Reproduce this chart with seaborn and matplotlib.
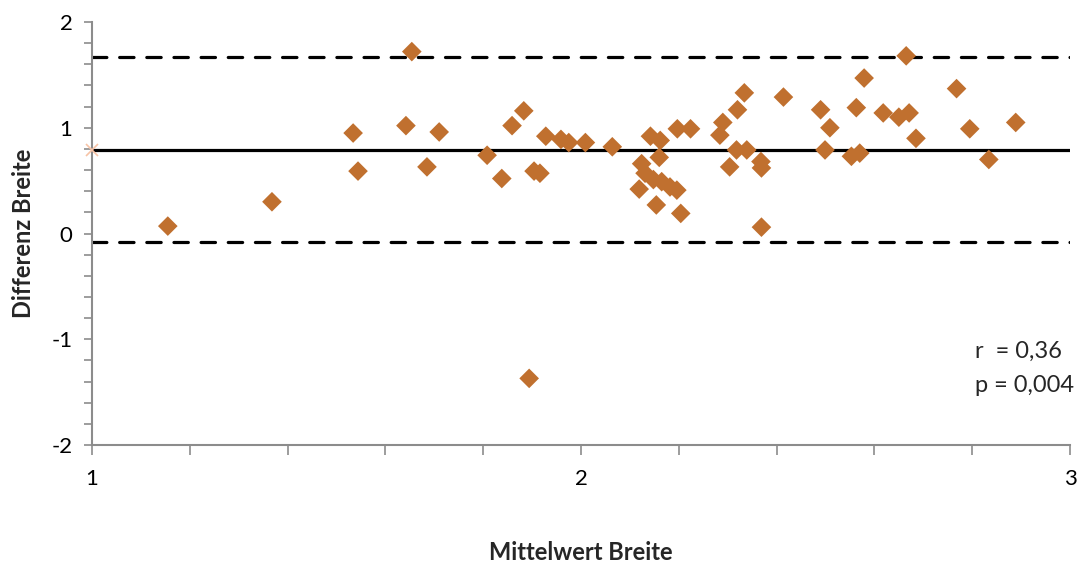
import numpy as np
import pandas as pd
import matplotlib
matplotlib.use("Agg")
import matplotlib.pyplot as plt
from matplotlib.ticker import MultipleLocator, FuncFormatter
import seaborn as sns

# Bland-Altman Daten (Breite)
mittelwert = [1.155, 1.368, 1.534, 1.544, 1.642, 1.654, 1.685, 1.710, 1.808, 1.838,
              1.859, 1.883, 1.894, 1.904, 1.916, 1.928, 1.959, 1.975, 2.009, 2.064,
              2.142, 2.162, 2.160, 2.124, 2.131, 2.148, 2.165, 2.182, 2.196, 2.119,
              2.154, 2.204, 2.197, 2.224, 2.284, 2.290, 2.320, 2.334, 2.318, 2.339,
              2.304, 2.368, 2.369, 2.369, 2.414, 2.490, 2.509, 2.499, 2.553, 2.570,
              2.563, 2.579, 2.618, 2.650, 2.671, 2.665, 2.685, 2.768, 2.795, 2.834,
              2.889]
differenz = [0.07, 0.30, 0.95, 0.59, 1.02, 1.72, 0.63, 0.96, 0.74, 0.52,
             1.02, 1.16, -1.37, 0.59, 0.57, 0.92, 0.89, 0.86, 0.86, 0.82,
             0.92, 0.88, 0.72, 0.66, 0.57, 0.51, 0.49, 0.44, 0.41, 0.42,
             0.27, 0.19, 0.99, 0.99, 0.93, 1.05, 1.17, 1.33, 0.79, 0.79,
             0.63, 0.68, 0.62, 0.06, 1.29, 1.17, 1.00, 0.79, 0.73, 0.76,
             1.19, 1.47, 1.14, 1.10, 1.14, 1.68, 0.90, 1.37, 0.99, 0.70,
             1.05]

mean_diff = 0.79
upper_loa = 1.67
lower_loa = -0.08
x_range = [1, 3]

df = pd.DataFrame({"Mittelwert Breite": mittelwert, "Differenz Breite": differenz})

sns.set_style("white")
plt.rcParams["font.family"] = ["Lato", "DejaVu Sans"]
plt.rcParams["axes.unicode_minus"] = False

fig = plt.figure(figsize=(10.85, 5.63), dpi=100)
ax = fig.add_axes([92 / 1085, 1 - 445 / 563, (1070 - 92) / 1085, (445 - 22) / 563])

dash = (0, (4.5, 4))
ax.plot(x_range, [upper_loa] * 2, color="black", lw=2.3, ls=dash,
        dash_capstyle="round", zorder=1)
ax.plot(x_range, [lower_loa] * 2, color="black", lw=2.3, ls=dash,
        dash_capstyle="round", zorder=1)
ax.plot(x_range, [mean_diff] * 2, color="black", lw=2.3, zorder=1)
ax.plot([x_range[0]], [mean_diff], marker="x", color="#F7C3A6", ms=9, mew=1.2,
        clip_on=False, zorder=3)

sns.scatterplot(data=df, x="Mittelwert Breite", y="Differenz Breite", ax=ax,
                marker="D", s=100, color="#C0702F", edgecolor="none", zorder=2)

ax.set_xlim(1, 3)
ax.set_ylim(-2, 2)
ax.xaxis.set_major_locator(MultipleLocator(1))
ax.xaxis.set_minor_locator(MultipleLocator(0.2))
ax.yaxis.set_major_locator(MultipleLocator(1))
ax.yaxis.set_minor_locator(MultipleLocator(0.2))
ax.yaxis.set_major_formatter(FuncFormatter(lambda v, p: f"{v:.0f}".replace("\u2212", "-")))

for side in ["top", "right"]:
    ax.spines[side].set_visible(False)
for side in ["left", "bottom"]:
    ax.spines[side].set_color("#8C8C8C")
    ax.spines[side].set_linewidth(1.5)

ax.tick_params(axis="both", which="both", direction="out", color="#8C8C8C",
               width=1.2, length=6, labelsize=16, labelcolor="black",
               bottom=True, left=True)
ax.tick_params(axis="x", which="both", length=7)
ax.tick_params(axis="x", which="major", pad=10)
ax.tick_params(axis="y", which="major", pad=8)

ax.set_xlabel("Mittelwert Breite", fontsize=17, fontweight="bold", labelpad=38)
ax.set_ylabel("Differenz Breite", fontsize=17, fontweight="bold", labelpad=12)

ax.text(2.805, -1.11, "r  = 0,36", fontsize=17, va="center", ha="left")
ax.text(2.805, -1.44, "p = 0,004", fontsize=17, va="center", ha="left")

fig.savefig("out.png", dpi=100)
